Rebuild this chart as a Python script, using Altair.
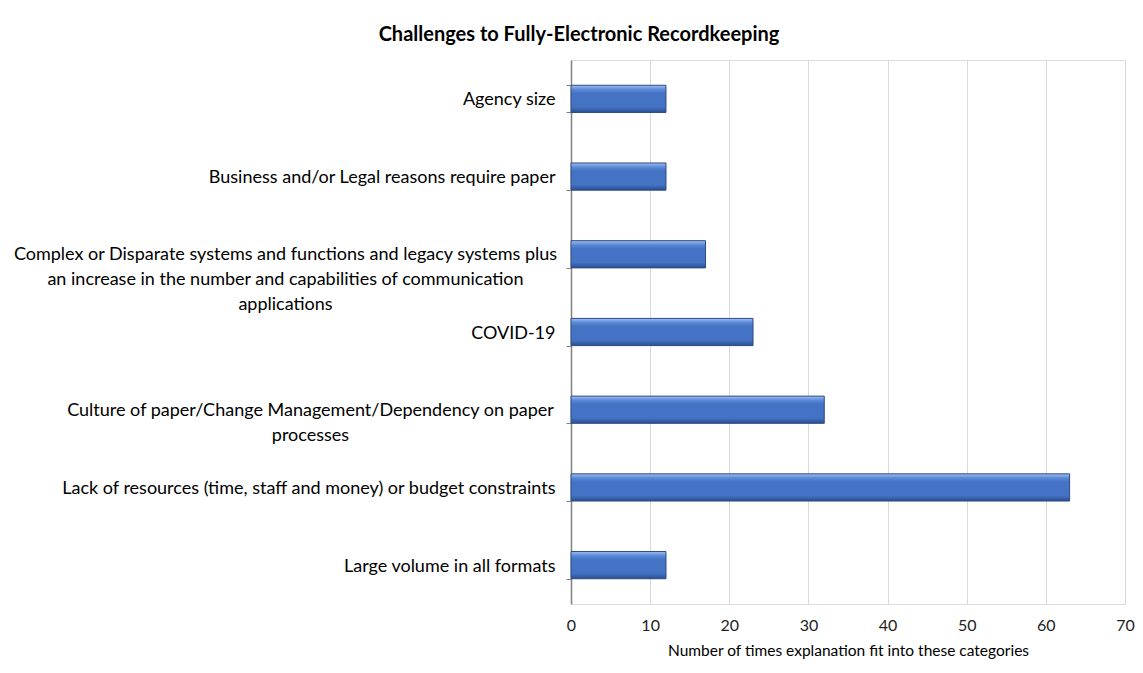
import altair as alt
import pandas as pd

categories = [
    "Agency size",
    "Business and/or Legal reasons require paper",
    "Complex or Disparate systems and functions and legacy systems plus|an increase in the number and capabilities of communication|applications",
    "COVID-19",
    "Culture of paper/Change Management/Dependency on paper|processes",
    "Lack of resources (time, staff and money) or budget constraints",
    "Large volume in all formats",
]
counts = [12, 12, 17, 23, 32, 63, 12]
x_ticks = [0, 10, 20, 30, 40, 50, 60, 70]

df = pd.DataFrame({"category": categories, "count": counts})

FONT = "Lato"

bar_fill = alt.Gradient(
    gradient="linear",
    stops=[
        alt.GradientStop(color="#a3c0f2", offset=0),
        alt.GradientStop(color="#5b8ad6", offset=0.15),
        alt.GradientStop(color="#4472C4", offset=0.3),
        alt.GradientStop(color="#4472C4", offset=0.8),
        alt.GradientStop(color="#2b4f8f", offset=1),
    ],
    x1=0, x2=0, y1=0, y2=1,
)

y_scale = alt.Scale(paddingInner=0.65, paddingOuter=0.325)
label_style = dict(
    title=None, orient="left",
    labelFont=FONT, labelFontSize=18, labelColor="#000000",
    labelLimit=700, labelLineHeight=25, labelOffset=1,
    grid=False,
)


def y_enc(axis):
    return alt.Y("category:N", sort=categories, scale=y_scale, axis=axis)


base = alt.Chart(df)

bars = base.mark_bar(fill=bar_fill, stroke="#2c4a80", strokeWidth=1).encode(
    x=alt.X(
        "count:Q",
        scale=alt.Scale(domain=[0, 70], nice=False),
        axis=alt.Axis(
            values=x_ticks,
            title="Number of times explanation fit into these categories",
            titleFont=FONT, titleFontSize=15.5, titleFontWeight="normal",
            titleColor="#000000", titlePadding=10,
            labelFont=FONT, labelFontSize=16, labelColor="#222222",
            labelPadding=13, labelFlush=False,
            domain=False, ticks=False,
            grid=True, gridColor="#d9d9d9", gridWidth=1,
        ),
    ),
    y=y_enc(alt.Axis(
        labelExpr="indexof(datum.label, '|') >= 0 ? '' : datum.label",
        labelAlign="right", labelPadding=11,
        domain=True, domainColor="#808080", domainWidth=1.5,
        ticks=True, tickColor="#808080", tickSize=5, tickBand="extent",
        **label_style,
    )),
)

complex_labels = base.mark_text(opacity=0).encode(
    y=y_enc(alt.Axis(
        labelExpr="indexof(datum.label, 'Complex') == 0 ? split(datum.label, '|') : ''",
        labelAlign="center", labelPadding=281,
        domain=False, ticks=True, tickOpacity=0, tickSize=5,
        **label_style,
    )),
    text=alt.value(""),
)

culture_labels = base.mark_text(opacity=0).encode(
    y=y_enc(alt.Axis(
        labelExpr="indexof(datum.label, 'Culture') == 0 ? split(datum.label, '|') : ''",
        labelAlign="center", labelPadding=256,
        domain=False, ticks=True, tickOpacity=0, tickSize=5,
        **label_style,
    )),
    text=alt.value(""),
)

chart = alt.layer(bars, complex_labels, culture_labels).resolve_axis(
    y="independent"
).properties(
    width=554,
    height=544,
    title=alt.TitleParams(
        "Challenges to Fully-Electronic Recordkeeping",
        font=FONT, fontSize=20, fontWeight="bold", color="#000000",
        anchor="middle", dx=-269, offset=6,
    ),
    autosize=alt.AutoSizeParams(type="none"),
    padding={"left": 563, "top": 52, "right": 10, "bottom": 60},
).configure_view(stroke=None).configure(background="#ffffff")

chart.save("out.html", embed_options={"renderer": "svg", "actions": False})
